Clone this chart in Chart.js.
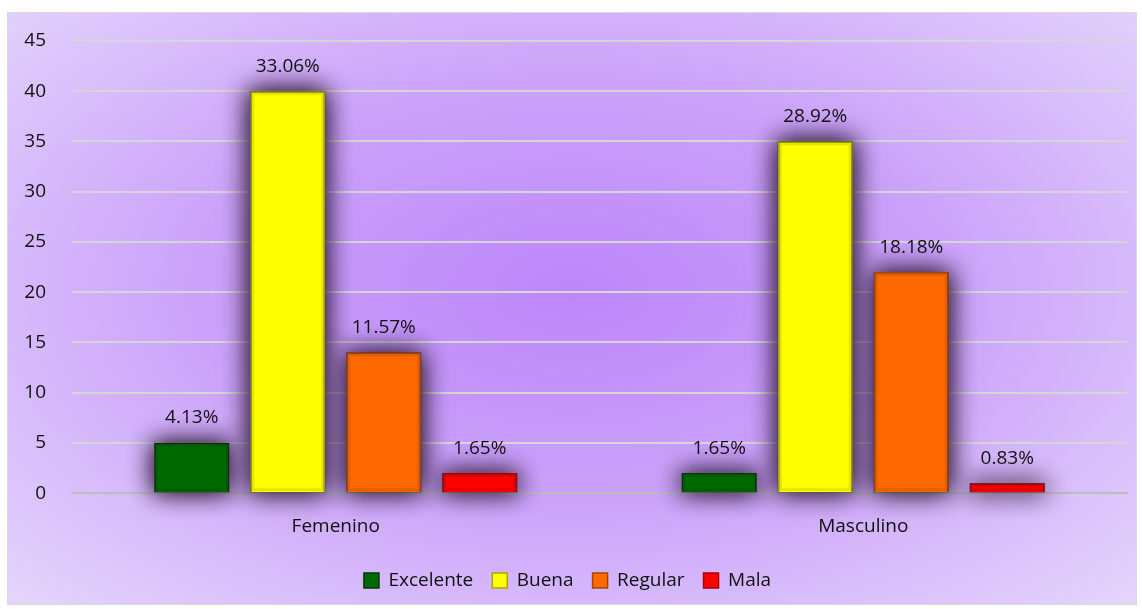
<!DOCTYPE html>
<html>
<head>
<meta charset="utf-8">
<script src="https://cdn.jsdelivr.net/npm/chart.js@4"></script>
<style>
    html, body { margin: 0; padding: 0; background: #fff; }
    #box {
        position: absolute; left: 7px; top: 12px; width: 1128px; height: 591px;
        border: 1px solid #d9d9d9;
        background: radial-gradient(ellipse 75% 80% at 50% 47%, #bd86f9 0%, #cba3fa 45%, #e8dcfc 100%);
    }
    canvas { display: block; }
</style>
</head>
<body>
<div id="box"><canvas id="chart" width="1128" height="591"></canvas></div>
<script>
const categories = ['Femenino', 'Masculino']
const seriesNames = ['Excelente', 'Buena', 'Regular', 'Mala']
const excelente = [5, 2]
const buena = [40, 35]
const regular = [14, 22]
const mala = [2, 1]
const excelenteLabels = ['4.13%', '1.65%']
const buenaLabels = ['33.06%', '28.92%']
const regularLabels = ['11.57%', '18.18%']
const malaLabels = ['1.65%', '0.83%']
const yTicks = [0, 5, 10, 15, 20, 25, 30, 35, 40, 45]

const FONT = '"Open Sans", Lato, sans-serif'

const colors = {
    fill: ['#006a00', '#ffff00', '#ff6a00', '#ff0000'],
    edge: ['#003800', '#a8a800', '#a84400', '#a80000']
}

const seriesData = [excelente, buena, regular, mala]
const seriesLabels = [excelenteLabels, buenaLabels, regularLabels, malaLabels]

const eachBar = (chart, fn) => {
    chart.data.datasets.forEach((ds, i) => {
        chart.getDatasetMeta(i).data.forEach((bar, j) => fn(bar, i, j))
    })
}

// dark glow behind the bars (Chart.js clips its own bar drawing, so paint it first)
const glowPlugin = {
    id: 'glow',
    beforeDatasetsDraw(chart) {
        const ctx = chart.ctx
        ctx.save()
        ctx.shadowColor = 'rgba(55, 35, 65, 0.9)'
        ctx.shadowBlur = 24
        ctx.fillStyle = 'rgb(80, 60, 90)'
        for (let pass = 0; pass < 2; pass++) {
            eachBar(chart, bar => {
                ctx.fillRect(bar.x - bar.width / 2, bar.y, bar.width, bar.base - bar.y)
            })
        }
        ctx.restore()
    },
    // soft bevel on the bar edges
    afterDatasetsDraw(chart) {
        const ctx = chart.ctx
        ctx.save()
        ctx.strokeStyle = 'rgba(0, 0, 0, 0.1)'
        ctx.lineWidth = 3
        eachBar(chart, bar => {
            const h = bar.base - bar.y
            if (h > 6) ctx.strokeRect(bar.x - bar.width / 2 + 2.5, bar.y + 2.5, bar.width - 5, h - 5)
        })
        ctx.restore()
    }
}

// percentage labels above the bars
const pctLabelPlugin = {
    id: 'pctLabels',
    afterDatasetsDraw(chart) {
        const ctx = chart.ctx
        ctx.save()
        ctx.font = '19px ' + FONT
        ctx.fillStyle = '#111'
        ctx.textAlign = 'center'
        ctx.textBaseline = 'middle'
        eachBar(chart, (bar, i, j) => {
            ctx.fillText(seriesLabels[i][j], bar.x, bar.y - 25)
        })
        ctx.restore()
    }
}

new Chart(document.getElementById('chart'), {
    type: 'bar',
    data: {
        labels: categories,
        datasets: seriesNames.map((name, i) => ({
            label: name,
            data: seriesData[i],
            backgroundColor: colors.fill[i],
            borderColor: colors.edge[i],
            borderWidth: 1.5,
            categoryPercentage: 0.728,
            barPercentage: 0.78
        }))
    },
    options: {
        responsive: false,
        animation: false,
        layout: {padding: {left: 0, right: 9, top: 28, bottom: 4}},
        plugins: {
            tooltip: {enabled: false},
            legend: {
                position: 'bottom',
                labels: {
                    boxWidth: 15,
                    boxHeight: 15,
                    padding: 19,
                    color: '#111',
                    font: {family: FONT, size: 19}
                }
            }
        },
        scales: {
            x: {
                grid: {display: false},
                border: {color: '#bdbdbd', width: 2},
                ticks: {color: '#111', padding: 14, font: {family: FONT, size: 19}},
                afterFit: (axis) => { axis.paddingLeft = 0; axis.paddingRight = 0 }
            },
            y: {
                min: 0,
                max: 45,
                afterBuildTicks: (axis) => { axis.ticks = yTicks.map(v => ({value: v})) },
                afterFit: (axis) => { axis.width = 64; axis.paddingTop = 0; axis.paddingBottom = 0 },
                grid: {color: '#d6d6d6', lineWidth: 2, drawTicks: false},
                border: {display: false},
                ticks: {color: '#111', padding: 26, font: {family: FONT, size: 19}}
            }
        }
    },
    plugins: [glowPlugin, pctLabelPlugin]
})
</script>
</body>
</html>
